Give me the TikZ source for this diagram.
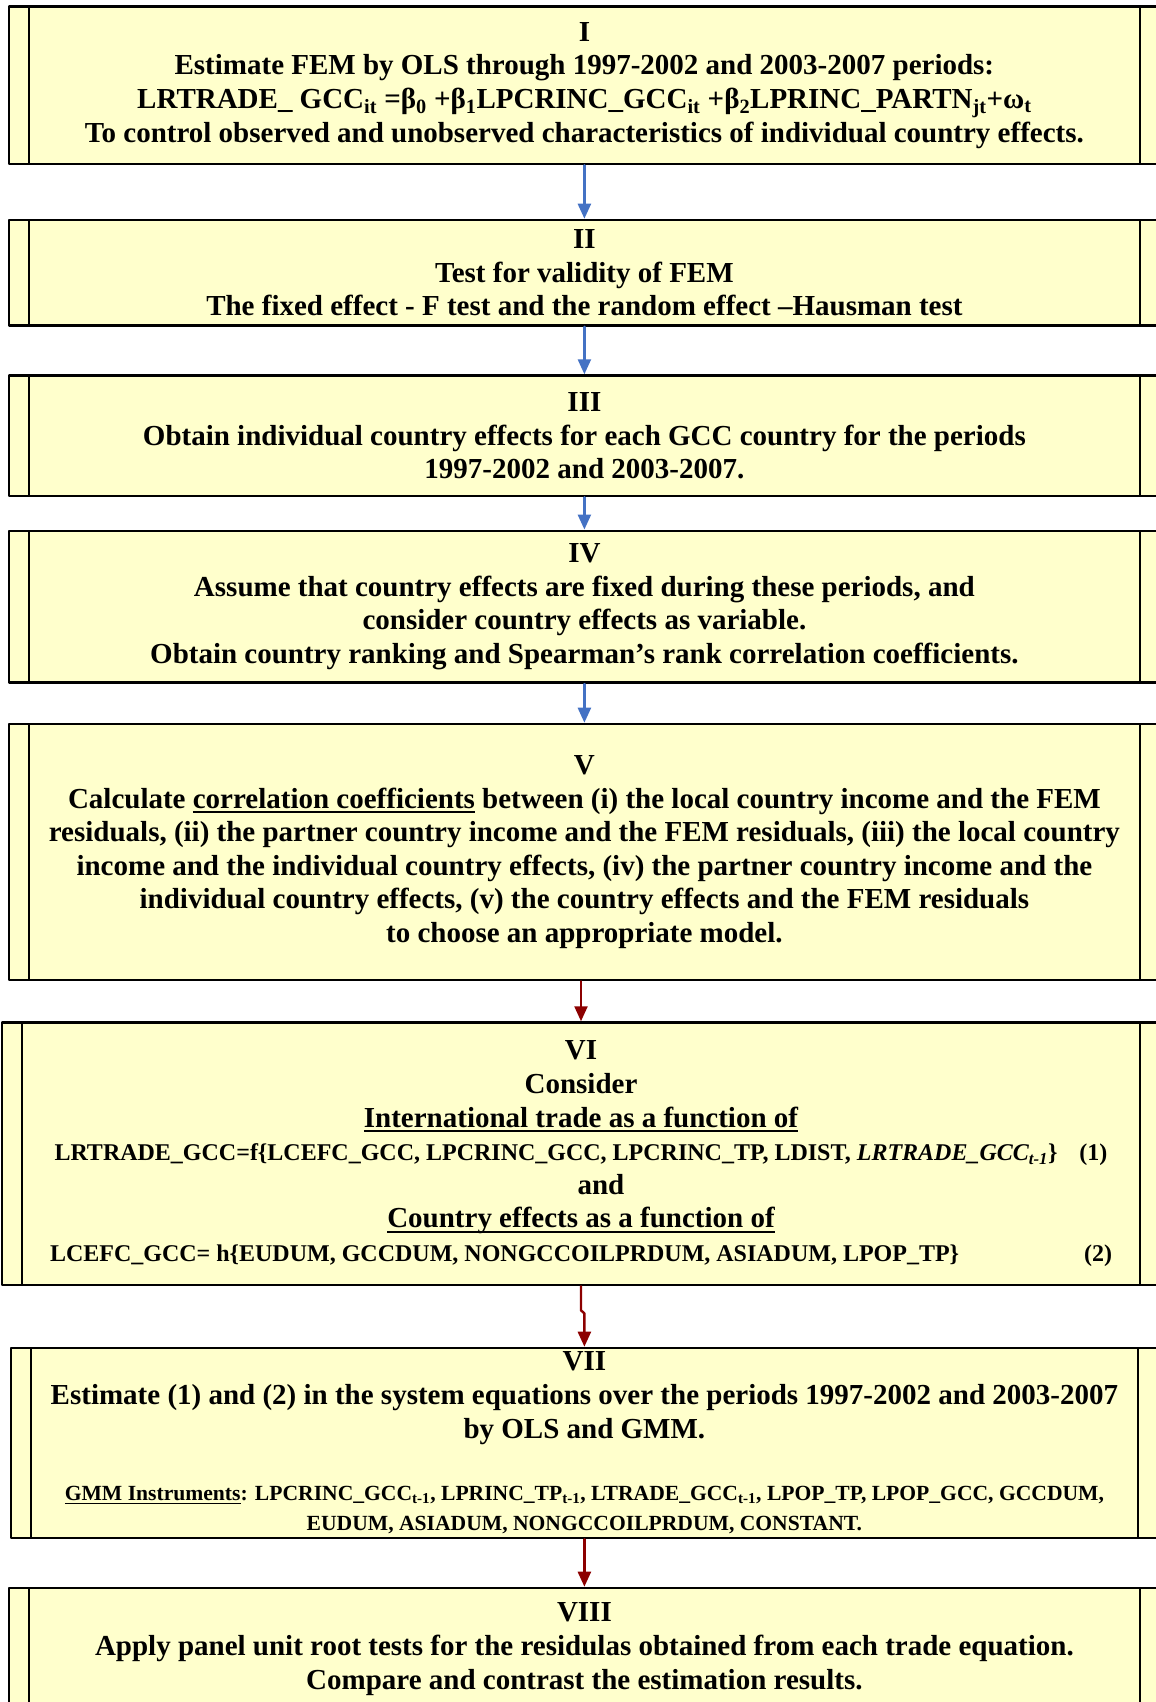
\documentclass[tikz,border=0pt]{standalone}
\usepackage{fontspec}
\setmainfont{Liberation Serif}
\usepackage{tikz}
\usetikzlibrary{arrows.meta}

\definecolor{boxfill}{RGB}{255,255,204}
\definecolor{arrowblue}{RGB}{68,114,196}
\definecolor{arrowred}{RGB}{140,0,0}

\newcommand{\smalleq}{\fontsize{24}{30}\selectfont}
\newcommand{\smallgmm}{\fontsize{21.6}{30}\selectfont}
\newcommand{\ulbox}[1]{\setbox0\hbox{#1}\rlap{\rule[-0.16em]{\wd0}{0.065em}}\box0\relax}

\tikzset{
  procbox/.style={draw=black,line width=2.6pt,fill=boxfill,align=center,inner sep=0pt,
    minimum width=1151pt,font=\bfseries\fontsize{29}{33.6}\selectfont,
    path picture={
      \draw[line width=2.6pt] ([xshift=20pt]path picture bounding box.north west)--([xshift=20pt]path picture bounding box.south west);
      \draw[line width=2.6pt] ([xshift=-20pt]path picture bounding box.north east)--([xshift=-20pt]path picture bounding box.south east);
    }},
  bluearrow/.style={->,line width=2.4pt,color=arrowblue},
  redarrow/.style={->,line width=2.4pt,color=arrowred}
}

\begin{document}
\begin{tikzpicture}[line cap=round,line join=round,>={Triangle[length=15pt,width=13pt]},x=1pt,y=-1pt]
\useasboundingbox (0,0) rectangle (1156,1702);
\clip (0,0) rectangle (1156,1702);

%boxes, top to bottom
\node[procbox,minimum height=157.5pt] (boxI) at (584.4,85.3) {I\\
Estimate FEM by OLS through 1997-2002 and 2003-2007 periods:\\
LRTRADE\_ GCC\textsubscript{it} =β\textsubscript{0} +β\textsubscript{1}LPCRINC\_GCC\textsubscript{it} +β\textsubscript{2}LPRINC\_PARTN\textsubscript{jt}+ω\textsubscript{t}\\
To control observed and unobserved characteristics of individual country effects.};
\node[procbox,minimum height=105.6pt] (boxII) at (584.4,272.8) {II\\
Test for validity of FEM\\
The fixed effect - F test and the random effect --Hausman test};
\node[procbox,minimum height=120.5pt] (boxIII) at (584.4,435.8) {III\\
Obtain individual country effects for each GCC country for the periods\\
1997-2002 and 2003-2007.};
\node[procbox,minimum height=151.9pt] (boxIV) at (584.4,606.8) {IV\\
Assume that country effects are fixed during these periods, and\\
consider country effects as variable.\\
Obtain country ranking and Spearman’s rank correlation coefficients.};
\node[procbox,minimum height=256pt] (boxV) at (584.4,852) {V\\
Calculate \ulbox{correlation coefficients} between (i) the local country income and the FEM\\
residuals, (ii) the partner country income and the FEM residuals, (iii) the local country\\
income and the individual country effects, (iv) the partner country income and the\\
individual country effects, (v) the country effects and the FEM residuals\\
to choose an appropriate model.};
\node[procbox,minimum height=262.5pt,minimum width=1158pt] (boxVI) at (581,1153.8) {VI\\
Consider\\
\ulbox{International trade as a function of}\\
\makebox[1053pt]{\smalleq LRTRADE\_GCC=f\{LCEFC\_GCC, LPCRINC\_GCC, LPCRINC\_TP, LDIST, \textit{LRTRADE\_GCC\textsubscript{t-1}}\}\hfill(1)}\\
\hspace*{40pt}and\\
\ulbox{Country effects as a function of}\\
\makebox[1062pt]{\smalleq LCEFC\_GCC= h\{EUDUM, GCCDUM, NONGCCOILPRDUM, ASIADUM, LPOP\_TP\}\hfill(2)}};
\node[procbox,minimum height=190pt,minimum width=1147pt] (boxVII) at (584.4,1443) {VII\\
Estimate (1) and (2) in the system equations over the periods 1997-2002 and 2003-2007\\
by OLS and GMM.\\[29pt]
{\smallgmm\ulbox{GMM Instruments}: LPCRINC\_GCC\textsubscript{t-1}, LPRINC\_TP\textsubscript{t-1}, LTRADE\_GCC\textsubscript{t-1}, LPOP\_TP, LPOP\_GCC, GCCDUM,}\\[-3.6pt]
{\smallgmm EUDUM, ASIADUM, NONGCCOILPRDUM, CONSTANT.}};
\node[procbox,minimum height=122pt] (boxVIII) at (584.4,1649) {VIII\\
Apply panel unit root tests for the residulas obtained from each trade equation.\\
Compare and contrast the estimation results.};

%connectors
\draw[bluearrow] (boxI) -- (boxII);
\draw[bluearrow] (boxII) -- (boxIII);
\draw[bluearrow] (boxIII) -- (boxIV);
\draw[bluearrow] (boxIV) -- (boxV);
\draw[redarrow] (boxVI.north |- boxV.south) -- (boxVI.north);
\draw[redarrow] (boxVI.south) -- ++(0,24) -- ++(3.4,3) -- (boxVII.north);
\draw[redarrow] (boxVII) -- (boxVIII);
\end{tikzpicture}
\end{document}
